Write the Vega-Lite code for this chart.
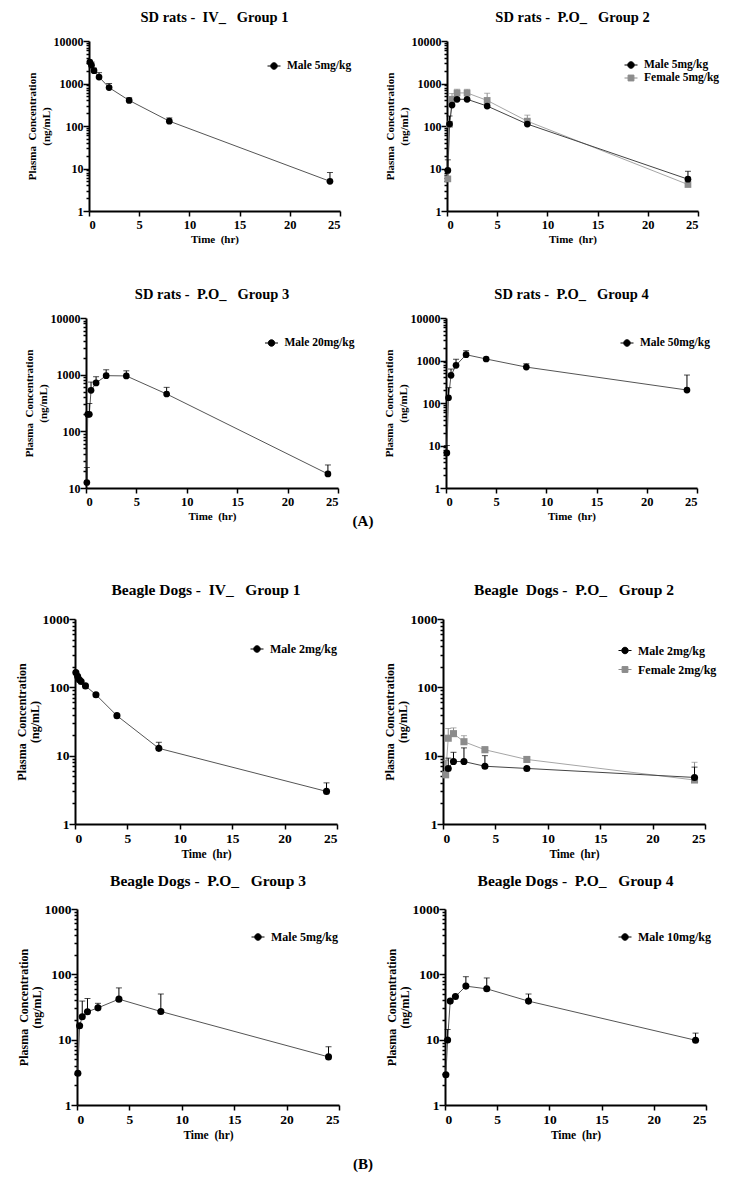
{
  "$schema": "https://vega.github.io/schema/vega-lite/v6.json",
  "autosize": {"type": "pad"},
  "padding": {"left": 15, "top": 9, "right": 0, "bottom": 0},
  "background": "white",
  "config": {
    "font": "Liberation Serif",
    "view": {"stroke": null},
    "axis": {"labelFont": "Liberation Serif", "labelFontWeight": "bold", "labelColor": "#000", "titleFont": "Liberation Serif", "titleFontWeight": "bold", "titleColor": "#000", "domainColor": "#000", "domainWidth": 2, "tickColor": "#000", "tickWidth": 1.5, "grid": false},
    "title": {"font": "Liberation Serif", "fontWeight": "bold", "color": "#000", "frame": "group", "anchor": "middle", "baseline": "bottom"},
    "legend": {"labelFont": "Liberation Serif", "labelFontWeight": "bold", "labelColor": "#000", "symbolSize": 169, "labelOffset": 6, "rowPadding": 0, "padding": 0}
  },
  "resolve": {"scale": {"color": "independent", "stroke": "independent", "shape": "independent"}, "legend": {"color": "independent", "stroke": "independent", "shape": "independent"}},
  "datasets": {
    "pk": [
      {"panel": "p1", "series": "Male 5mg/kg", "t": 0.083, "c": 3200, "hi": null},
      {"panel": "p1", "series": "Male 5mg/kg", "t": 0.25, "c": 2700, "hi": 3200},
      {"panel": "p1", "series": "Male 5mg/kg", "t": 0.5, "c": 2000, "hi": 2300},
      {"panel": "p1", "series": "Male 5mg/kg", "t": 1, "c": 1420, "hi": 1800},
      {"panel": "p1", "series": "Male 5mg/kg", "t": 2, "c": 800, "hi": 1000},
      {"panel": "p1", "series": "Male 5mg/kg", "t": 4, "c": 400, "hi": 460},
      {"panel": "p1", "series": "Male 5mg/kg", "t": 8, "c": 130, "hi": 155},
      {"panel": "p1", "series": "Male 5mg/kg", "t": 24, "c": 5, "hi": 8},
      {"panel": "p2", "series": "Male 5mg/kg", "t": 0.083, "c": 9, "hi": 16},
      {"panel": "p2", "series": "Male 5mg/kg", "t": 0.25, "c": 111, "hi": 172},
      {"panel": "p2", "series": "Male 5mg/kg", "t": 0.5, "c": 310, "hi": null},
      {"panel": "p2", "series": "Male 5mg/kg", "t": 1, "c": 425, "hi": null},
      {"panel": "p2", "series": "Male 5mg/kg", "t": 2, "c": 425, "hi": null},
      {"panel": "p2", "series": "Male 5mg/kg", "t": 4, "c": 295, "hi": null},
      {"panel": "p2", "series": "Male 5mg/kg", "t": 8, "c": 111, "hi": null},
      {"panel": "p2", "series": "Male 5mg/kg", "t": 24, "c": 5.6, "hi": 8.6},
      {"panel": "p2", "series": "Female 5mg/kg", "t": 0.083, "c": 5.7, "hi": null},
      {"panel": "p2", "series": "Female 5mg/kg", "t": 0.25, "c": 110, "hi": null},
      {"panel": "p2", "series": "Female 5mg/kg", "t": 0.5, "c": 425, "hi": 580},
      {"panel": "p2", "series": "Female 5mg/kg", "t": 1, "c": 600, "hi": 730},
      {"panel": "p2", "series": "Female 5mg/kg", "t": 2, "c": 600, "hi": 730},
      {"panel": "p2", "series": "Female 5mg/kg", "t": 4, "c": 400, "hi": 590},
      {"panel": "p2", "series": "Female 5mg/kg", "t": 8, "c": 130, "hi": 180},
      {"panel": "p2", "series": "Female 5mg/kg", "t": 24, "c": 4.2, "hi": null},
      {"panel": "p3", "series": "Male 20mg/kg", "t": 0.083, "c": 12.5, "hi": 23},
      {"panel": "p3", "series": "Male 20mg/kg", "t": 0.17, "c": 200, "hi": null},
      {"panel": "p3", "series": "Male 20mg/kg", "t": 0.33, "c": 200, "hi": 310},
      {"panel": "p3", "series": "Male 20mg/kg", "t": 0.5, "c": 530, "hi": 740},
      {"panel": "p3", "series": "Male 20mg/kg", "t": 1, "c": 715, "hi": 920},
      {"panel": "p3", "series": "Male 20mg/kg", "t": 2, "c": 960, "hi": 1220},
      {"panel": "p3", "series": "Male 20mg/kg", "t": 4, "c": 950, "hi": 1170},
      {"panel": "p3", "series": "Male 20mg/kg", "t": 8, "c": 456, "hi": 597},
      {"panel": "p3", "series": "Male 20mg/kg", "t": 24, "c": 17.7, "hi": 25.5},
      {"panel": "p4", "series": "Male 50mg/kg", "t": 0.083, "c": 6.7, "hi": 10},
      {"panel": "p4", "series": "Male 50mg/kg", "t": 0.25, "c": 133, "hi": 230},
      {"panel": "p4", "series": "Male 50mg/kg", "t": 0.5, "c": 448, "hi": 630},
      {"panel": "p4", "series": "Male 50mg/kg", "t": 1, "c": 770, "hi": 1070},
      {"panel": "p4", "series": "Male 50mg/kg", "t": 2, "c": 1370, "hi": 1700},
      {"panel": "p4", "series": "Male 50mg/kg", "t": 4, "c": 1085, "hi": null},
      {"panel": "p4", "series": "Male 50mg/kg", "t": 8, "c": 700, "hi": 840},
      {"panel": "p4", "series": "Male 50mg/kg", "t": 24, "c": 202, "hi": 455},
      {"panel": "p5", "series": "Male 2mg/kg", "t": 0.083, "c": 165, "hi": null},
      {"panel": "p5", "series": "Male 2mg/kg", "t": 0.25, "c": 145, "hi": null},
      {"panel": "p5", "series": "Male 2mg/kg", "t": 0.417, "c": 129, "hi": null},
      {"panel": "p5", "series": "Male 2mg/kg", "t": 0.583, "c": 122, "hi": null},
      {"panel": "p5", "series": "Male 2mg/kg", "t": 1, "c": 105, "hi": null},
      {"panel": "p5", "series": "Male 2mg/kg", "t": 2, "c": 78, "hi": null},
      {"panel": "p5", "series": "Male 2mg/kg", "t": 4, "c": 38.5, "hi": null},
      {"panel": "p5", "series": "Male 2mg/kg", "t": 8, "c": 12.8, "hi": 15.7},
      {"panel": "p5", "series": "Male 2mg/kg", "t": 24, "c": 3.0, "hi": 4.0},
      {"panel": "p6", "series": "Male 2mg/kg", "t": 0.5, "c": 6.5, "hi": 9.2},
      {"panel": "p6", "series": "Male 2mg/kg", "t": 1, "c": 8.2, "hi": 11.2},
      {"panel": "p6", "series": "Male 2mg/kg", "t": 2, "c": 8.2, "hi": 13},
      {"panel": "p6", "series": "Male 2mg/kg", "t": 4, "c": 7.0, "hi": 10},
      {"panel": "p6", "series": "Male 2mg/kg", "t": 8, "c": 6.5, "hi": null},
      {"panel": "p6", "series": "Male 2mg/kg", "t": 24, "c": 4.8, "hi": 6.8},
      {"panel": "p6", "series": "Female 2mg/kg", "t": 0.25, "c": 5.25, "hi": 8.6},
      {"panel": "p6", "series": "Female 2mg/kg", "t": 0.5, "c": 18, "hi": 25},
      {"panel": "p6", "series": "Female 2mg/kg", "t": 1, "c": 21, "hi": 25.5},
      {"panel": "p6", "series": "Female 2mg/kg", "t": 2, "c": 16, "hi": 19.6},
      {"panel": "p6", "series": "Female 2mg/kg", "t": 4, "c": 12.2, "hi": 13.5},
      {"panel": "p6", "series": "Female 2mg/kg", "t": 8, "c": 8.8, "hi": 9.7},
      {"panel": "p6", "series": "Female 2mg/kg", "t": 24, "c": 4.4, "hi": 8.0},
      {"panel": "p7", "series": "Male 5mg/kg", "t": 0.083, "c": 3.06, "hi": null},
      {"panel": "p7", "series": "Male 5mg/kg", "t": 0.25, "c": 16.3, "hi": null},
      {"panel": "p7", "series": "Male 5mg/kg", "t": 0.5, "c": 22.4, "hi": 39},
      {"panel": "p7", "series": "Male 5mg/kg", "t": 1, "c": 26.7, "hi": 42.7},
      {"panel": "p7", "series": "Male 5mg/kg", "t": 2, "c": 30.7, "hi": 36},
      {"panel": "p7", "series": "Male 5mg/kg", "t": 4, "c": 41.7, "hi": 62},
      {"panel": "p7", "series": "Male 5mg/kg", "t": 8, "c": 27, "hi": 50},
      {"panel": "p7", "series": "Male 5mg/kg", "t": 24, "c": 5.45, "hi": 7.8},
      {"panel": "p8", "series": "Male 10mg/kg", "t": 0.083, "c": 2.9, "hi": null},
      {"panel": "p8", "series": "Male 10mg/kg", "t": 0.25, "c": 9.9, "hi": 14.3},
      {"panel": "p8", "series": "Male 10mg/kg", "t": 0.5, "c": 38.9, "hi": null},
      {"panel": "p8", "series": "Male 10mg/kg", "t": 1, "c": 45.8, "hi": null},
      {"panel": "p8", "series": "Male 10mg/kg", "t": 2, "c": 66, "hi": 92},
      {"panel": "p8", "series": "Male 10mg/kg", "t": 4, "c": 60, "hi": 88},
      {"panel": "p8", "series": "Male 10mg/kg", "t": 8, "c": 38.9, "hi": 50},
      {"panel": "p8", "series": "Male 10mg/kg", "t": 24, "c": 9.8, "hi": 12.6}
    ]
  },
  "columns": 3,
  "align": "none",
  "bounds": "flush",
  "spacing": 0,
  "concat": [
    {
      "width": 265, "height": 170,
      "title": {"text": "SD rats -\u00a0 IV_\u00a0\u00a0 Group 1", "fontSize": 14.5, "offset": 10, "dx": 7},
      "data": {"name": "pk"},
      "transform": [{"filter": "datum.panel === 'p1'"}],
      "encoding": {
        "x": {"field": "t", "type": "quantitative", "scale": {"domain": [0, 25], "nice": false, "range": [14, 265]}, "axis": {"values": [0, 5, 10, 15, 20, 25], "title": "Time\u00a0 (hr)", "tickSize": 5, "labelPadding": 2, "titlePadding": 3, "labelFontSize": 12.5, "titleFontSize": 11}},
        "y": {"field": "c", "type": "quantitative", "scale": {"type": "log", "domain": [1, 10000], "nice": false}, "axis": {"offset": -14, "values": [1,2,3,4,5,6,7,8,9,10,20,30,40,50,60,70,80,90,100,200,300,400,500,600,700,800,900,1000,2000,3000,4000,5000,6000,7000,8000,9000,10000], "format": "d", "labelExpr": "indexof(['1','10','100','1000','10000'], datum.label) >= 0 ? datum.label : ''", "tickSize": {"condition": {"test": "indexof([1,10,100,1000,10000], datum.value) >= 0", "value": 6}, "value": 3}, "labelOverlap": false, "labelPadding": 0, "title": ["Plasma\u00a0 Concentration", "(ng/mL)"], "titlePadding": 2, "titleLineHeight": 14, "labelFontSize": 12, "titleFontSize": 11}}
      },
      "layer": [
        {"mark": {"type": "line", "strokeWidth": 1, "color": "#555555"}},
        {"transform": [{"filter": "datum.hi != null"}], "mark": {"type": "rule", "strokeWidth": 1, "color": "#000000"}, "encoding": {"y2": {"field": "hi"}}},
        {"transform": [{"filter": "datum.hi != null"}], "mark": {"type": "tick", "orient": "horizontal", "size": 6, "thickness": 1, "color": "#000000"}, "encoding": {"y": {"field": "hi", "type": "quantitative", "scale": {"type": "log", "domain": [1, 10000], "nice": false}}}},
        {"mark": {"type": "point", "shape": "circle", "filled": true, "size": 45, "opacity": 1, "color": "#000000"}},
        {"mark": {"type": "point", "filled": true, "size": 0, "opacity": 0}, "encoding": {
          "color": {"field": "series", "type": "nominal", "scale": {"domain": ["Male 5mg/kg"], "range": ["#000000"]}, "legend": {"title": null, "orient": "none", "legendX": 192, "legendY": 18, "labelFontSize": 11.5, "symbolOpacity": 1, "symbolStrokeWidth": 1}},
          "stroke": {"field": "series", "type": "nominal", "scale": {"domain": ["Male 5mg/kg"], "range": ["#000000"]}, "legend": {"title": null, "orient": "none", "legendX": 192, "legendY": 18, "labelFontSize": 11.5, "symbolOpacity": 1, "symbolStrokeWidth": 1}},
          "shape": {"field": "series", "type": "nominal", "scale": {"domain": ["Male 5mg/kg"], "range": ["M-1,0H-0.5M0.5,0H1M0.5,0A0.5,0.5 0 1,1 -0.5,0A0.5,0.5 0 1,1 0.5,0Z"]}, "legend": {"title": null, "orient": "none", "legendX": 192, "legendY": 18, "labelFontSize": 11.5, "symbolOpacity": 1, "symbolStrokeWidth": 1}}
        }}
      ]
    },
    {"width": 103, "height": 170, "data": {"values": []}, "mark": {"type": "point", "opacity": 0}, "encoding": {}},
    {
      "width": 255, "height": 170,
      "title": {"text": "SD rats -\u00a0 P.O_\u00a0\u00a0 Group 2", "fontSize": 14.5, "offset": 10, "dx": 2},
      "data": {"name": "pk"},
      "transform": [{"filter": "datum.panel === 'p2'"}],
      "encoding": {
        "x": {"field": "t", "type": "quantitative", "scale": {"domain": [0, 25], "nice": false, "range": [4, 255]}, "axis": {"values": [0, 5, 10, 15, 20, 25], "title": "Time\u00a0 (hr)", "tickSize": 5, "labelPadding": 2, "titlePadding": 3, "labelFontSize": 12.5, "titleFontSize": 11}},
        "y": {"field": "c", "type": "quantitative", "scale": {"type": "log", "domain": [1, 10000], "nice": false}, "axis": {"offset": -4, "values": [1,2,3,4,5,6,7,8,9,10,20,30,40,50,60,70,80,90,100,200,300,400,500,600,700,800,900,1000,2000,3000,4000,5000,6000,7000,8000,9000,10000], "format": "d", "labelExpr": "indexof(['1','10','100','1000','10000'], datum.label) >= 0 ? datum.label : ''", "tickSize": {"condition": {"test": "indexof([1,10,100,1000,10000], datum.value) >= 0", "value": 6}, "value": 3}, "labelOverlap": false, "labelPadding": 0, "title": ["Plasma\u00a0 Concentration", "(ng/mL)"], "titlePadding": 2, "titleLineHeight": 14, "labelFontSize": 12, "titleFontSize": 11}}
      },
      "layer": [
        {"transform": [{"filter": "datum.series === 'Female 5mg/kg'"}], "mark": {"type": "line", "strokeWidth": 1, "color": "#a6a6a6"}},
        {"transform": [{"filter": "datum.series === 'Male 5mg/kg'"}], "mark": {"type": "line", "strokeWidth": 1, "color": "#444444"}},
        {"transform": [{"filter": "datum.hi != null && datum.series === 'Female 5mg/kg'"}], "mark": {"type": "rule", "strokeWidth": 1, "color": "#8c8c8c"}, "encoding": {"y2": {"field": "hi"}}},
        {"transform": [{"filter": "datum.hi != null && datum.series === 'Female 5mg/kg'"}], "mark": {"type": "tick", "orient": "horizontal", "size": 6, "thickness": 1, "color": "#8c8c8c"}, "encoding": {"y": {"field": "hi", "type": "quantitative", "scale": {"type": "log", "domain": [1, 10000], "nice": false}}}},
        {"transform": [{"filter": "datum.hi != null && datum.series === 'Male 5mg/kg'"}], "mark": {"type": "rule", "strokeWidth": 1, "color": "#000000"}, "encoding": {"y2": {"field": "hi"}}},
        {"transform": [{"filter": "datum.hi != null && datum.series === 'Male 5mg/kg'"}], "mark": {"type": "tick", "orient": "horizontal", "size": 6, "thickness": 1, "color": "#000000"}, "encoding": {"y": {"field": "hi", "type": "quantitative", "scale": {"type": "log", "domain": [1, 10000], "nice": false}}}},
        {"transform": [{"filter": "datum.series === 'Female 5mg/kg'"}], "mark": {"type": "point", "shape": "square", "filled": true, "size": 45, "opacity": 1, "color": "#8c8c8c"}},
        {"transform": [{"filter": "datum.series === 'Male 5mg/kg'"}], "mark": {"type": "point", "shape": "circle", "filled": true, "size": 45, "opacity": 1, "color": "#000000"}},
        {"mark": {"type": "point", "filled": true, "size": 0, "opacity": 0}, "encoding": {
          "color": {"field": "series", "type": "nominal", "scale": {"domain": ["Male 5mg/kg", "Female 5mg/kg"], "range": ["#000000", "#8c8c8c"]}, "legend": {"title": null, "orient": "none", "legendX": 181, "legendY": 17, "labelFontSize": 11.5, "symbolOpacity": 1, "symbolStrokeWidth": 1}},
          "stroke": {"field": "series", "type": "nominal", "scale": {"domain": ["Male 5mg/kg", "Female 5mg/kg"], "range": ["#000000", "#8c8c8c"]}, "legend": {"title": null, "orient": "none", "legendX": 181, "legendY": 17, "labelFontSize": 11.5, "symbolOpacity": 1, "symbolStrokeWidth": 1}},
          "shape": {"field": "series", "type": "nominal", "scale": {"domain": ["Male 5mg/kg", "Female 5mg/kg"], "range": ["M-1,0H-0.5M0.5,0H1M0.5,0A0.5,0.5 0 1,1 -0.5,0A0.5,0.5 0 1,1 0.5,0Z", "M-1,0H-0.45M0.45,0H1M-0.45,-0.45H0.45V0.45H-0.45Z"]}, "legend": {"title": null, "orient": "none", "legendX": 181, "legendY": 17, "labelFontSize": 11.5, "symbolOpacity": 1, "symbolStrokeWidth": 1}}
        }}
      ]
    },
    {"width": 1, "height": 107, "data": {"values": []}, "mark": {"type": "point", "opacity": 0}, "encoding": {}},
    {"width": 1, "height": 107, "data": {"values": []}, "mark": {"type": "point", "opacity": 0}, "encoding": {}},
    {"width": 1, "height": 107, "data": {"values": []}, "mark": {"type": "point", "opacity": 0}, "encoding": {}},
    {
      "width": 263, "height": 170,
      "title": {"text": "SD rats -\u00a0 P.O_\u00a0\u00a0 Group 3", "fontSize": 14.5, "offset": 10, "dx": 5.5},
      "data": {"name": "pk"},
      "transform": [{"filter": "datum.panel === 'p3'"}],
      "encoding": {
        "x": {"field": "t", "type": "quantitative", "scale": {"domain": [0, 25], "nice": false, "range": [11, 263]}, "axis": {"values": [0, 5, 10, 15, 20, 25], "title": "Time\u00a0 (hr)", "tickSize": 5, "labelPadding": 2, "titlePadding": 3, "labelFontSize": 12.5, "titleFontSize": 11}},
        "y": {"field": "c", "type": "quantitative", "scale": {"type": "log", "domain": [10, 10000], "nice": false}, "axis": {"offset": -11, "values": [10,20,30,40,50,60,70,80,90,100,200,300,400,500,600,700,800,900,1000,2000,3000,4000,5000,6000,7000,8000,9000,10000], "format": "d", "labelExpr": "indexof(['10','100','1000','10000'], datum.label) >= 0 ? datum.label : ''", "tickSize": {"condition": {"test": "indexof([10,100,1000,10000], datum.value) >= 0", "value": 6}, "value": 3}, "labelOverlap": false, "labelPadding": 0, "title": ["Plasma\u00a0 Concentration", "(ng/mL)"], "titlePadding": 2, "titleLineHeight": 14, "labelFontSize": 12, "titleFontSize": 11}}
      },
      "layer": [
        {"mark": {"type": "line", "strokeWidth": 1, "color": "#555555"}},
        {"transform": [{"filter": "datum.hi != null"}], "mark": {"type": "rule", "strokeWidth": 1, "color": "#000000"}, "encoding": {"y2": {"field": "hi"}}},
        {"transform": [{"filter": "datum.hi != null"}], "mark": {"type": "tick", "orient": "horizontal", "size": 6, "thickness": 1, "color": "#000000"}, "encoding": {"y": {"field": "hi", "type": "quantitative", "scale": {"type": "log", "domain": [10, 10000], "nice": false}}}},
        {"mark": {"type": "point", "shape": "circle", "filled": true, "size": 45, "opacity": 1, "color": "#000000"}},
        {"mark": {"type": "point", "filled": true, "size": 0, "opacity": 0}, "encoding": {
          "color": {"field": "series", "type": "nominal", "scale": {"domain": ["Male 20mg/kg"], "range": ["#000000"]}, "legend": {"title": null, "orient": "none", "legendX": 189.5, "legendY": 18, "labelFontSize": 11.5, "symbolOpacity": 1, "symbolStrokeWidth": 1}},
          "stroke": {"field": "series", "type": "nominal", "scale": {"domain": ["Male 20mg/kg"], "range": ["#000000"]}, "legend": {"title": null, "orient": "none", "legendX": 189.5, "legendY": 18, "labelFontSize": 11.5, "symbolOpacity": 1, "symbolStrokeWidth": 1}},
          "shape": {"field": "series", "type": "nominal", "scale": {"domain": ["Male 20mg/kg"], "range": ["M-1,0H-0.5M0.5,0H1M0.5,0A0.5,0.5 0 1,1 -0.5,0A0.5,0.5 0 1,1 0.5,0Z"]}, "legend": {"title": null, "orient": "none", "legendX": 189.5, "legendY": 18, "labelFontSize": 11.5, "symbolOpacity": 1, "symbolStrokeWidth": 1}}
        }}
      ]
    },
    {"width": 103, "height": 170, "data": {"values": []}, "mark": {"type": "point", "opacity": 0}, "encoding": {}},
    {
      "width": 254, "height": 170,
      "title": {"text": "SD rats -\u00a0 P.O_\u00a0\u00a0 Group 4", "fontSize": 14.5, "offset": 10, "dx": 1.5},
      "data": {"name": "pk"},
      "transform": [{"filter": "datum.panel === 'p4'"}],
      "encoding": {
        "x": {"field": "t", "type": "quantitative", "scale": {"domain": [0, 25], "nice": false, "range": [3, 254]}, "axis": {"values": [0, 5, 10, 15, 20, 25], "title": "Time\u00a0 (hr)", "tickSize": 5, "labelPadding": 2, "titlePadding": 3, "labelFontSize": 12.5, "titleFontSize": 11}},
        "y": {"field": "c", "type": "quantitative", "scale": {"type": "log", "domain": [1, 10000], "nice": false}, "axis": {"offset": -3, "values": [1,2,3,4,5,6,7,8,9,10,20,30,40,50,60,70,80,90,100,200,300,400,500,600,700,800,900,1000,2000,3000,4000,5000,6000,7000,8000,9000,10000], "format": "d", "labelExpr": "indexof(['1','10','100','1000','10000'], datum.label) >= 0 ? datum.label : ''", "tickSize": {"condition": {"test": "indexof([1,10,100,1000,10000], datum.value) >= 0", "value": 6}, "value": 3}, "labelOverlap": false, "labelPadding": 0, "title": ["Plasma\u00a0 Concentration", "(ng/mL)"], "titlePadding": 2, "titleLineHeight": 14, "labelFontSize": 12, "titleFontSize": 11}}
      },
      "layer": [
        {"mark": {"type": "line", "strokeWidth": 1, "color": "#555555"}},
        {"transform": [{"filter": "datum.hi != null"}], "mark": {"type": "rule", "strokeWidth": 1, "color": "#000000"}, "encoding": {"y2": {"field": "hi"}}},
        {"transform": [{"filter": "datum.hi != null"}], "mark": {"type": "tick", "orient": "horizontal", "size": 6, "thickness": 1, "color": "#000000"}, "encoding": {"y": {"field": "hi", "type": "quantitative", "scale": {"type": "log", "domain": [1, 10000], "nice": false}}}},
        {"mark": {"type": "point", "shape": "circle", "filled": true, "size": 45, "opacity": 1, "color": "#000000"}},
        {"mark": {"type": "point", "filled": true, "size": 0, "opacity": 0}, "encoding": {
          "color": {"field": "series", "type": "nominal", "scale": {"domain": ["Male 50mg/kg"], "range": ["#000000"]}, "legend": {"title": null, "orient": "none", "legendX": 177, "legendY": 18, "labelFontSize": 11.5, "symbolOpacity": 1, "symbolStrokeWidth": 1}},
          "stroke": {"field": "series", "type": "nominal", "scale": {"domain": ["Male 50mg/kg"], "range": ["#000000"]}, "legend": {"title": null, "orient": "none", "legendX": 177, "legendY": 18, "labelFontSize": 11.5, "symbolOpacity": 1, "symbolStrokeWidth": 1}},
          "shape": {"field": "series", "type": "nominal", "scale": {"domain": ["Male 50mg/kg"], "range": ["M-1,0H-0.5M0.5,0H1M0.5,0A0.5,0.5 0 1,1 -0.5,0A0.5,0.5 0 1,1 0.5,0Z"]}, "legend": {"title": null, "orient": "none", "legendX": 177, "legendY": 18, "labelFontSize": 11.5, "symbolOpacity": 1, "symbolStrokeWidth": 1}}
        }}
      ]
    },
    {"width": 262, "height": 131, "data": {"values": [{"label": "(A)"}]}, "mark": {"type": "text", "font": "Liberation Serif", "fontSize": 15, "fontWeight": "bold", "color": "#000", "dx": 157, "dy": -33}, "encoding": {"text": {"field": "label"}}},
    {"width": 1, "height": 131, "data": {"values": []}, "mark": {"type": "point", "opacity": 0}, "encoding": {}},
    {"width": 1, "height": 131, "data": {"values": []}, "mark": {"type": "point", "opacity": 0}, "encoding": {}},
    {
      "width": 262, "height": 205,
      "title": {"text": "Beagle Dogs -\u00a0 IV_\u00a0\u00a0 Group 1", "fontSize": 15.5, "offset": 14},
      "data": {"name": "pk"},
      "transform": [{"filter": "datum.panel === 'p5'"}],
      "encoding": {
        "x": {"field": "t", "type": "quantitative", "scale": {"domain": [0, 25], "nice": false}, "axis": {"values": [0, 5, 10, 15, 20, 25], "title": "Time\u00a0 (hr)", "tickSize": 5, "labelPadding": 2, "titlePadding": 4, "labelFontSize": 13.5, "titleFontSize": 11.5}},
        "y": {"field": "c", "type": "quantitative", "scale": {"type": "log", "domain": [1, 1000], "nice": false}, "axis": {"values": [1,2,3,4,5,6,7,8,9,10,20,30,40,50,60,70,80,90,100,200,300,400,500,600,700,800,900,1000], "format": "d", "labelExpr": "indexof(['1','10','100','1000'], datum.label) >= 0 ? datum.label : ''", "tickSize": {"condition": {"test": "indexof([1,10,100,1000], datum.value) >= 0", "value": 6}, "value": 3}, "labelOverlap": false, "labelPadding": 0, "title": ["Plasma\u00a0 Concentration", "(ng/mL)"], "titlePadding": 1, "titleLineHeight": 12.5, "labelFontSize": 13.5, "titleFontSize": 12}}
      },
      "layer": [
        {"mark": {"type": "line", "strokeWidth": 1, "color": "#555555"}},
        {"transform": [{"filter": "datum.hi != null"}], "mark": {"type": "rule", "strokeWidth": 1, "color": "#000000"}, "encoding": {"y2": {"field": "hi"}}},
        {"transform": [{"filter": "datum.hi != null"}], "mark": {"type": "tick", "orient": "horizontal", "size": 6, "thickness": 1, "color": "#000000"}, "encoding": {"y": {"field": "hi", "type": "quantitative", "scale": {"type": "log", "domain": [1, 1000], "nice": false}}}},
        {"mark": {"type": "point", "shape": "circle", "filled": true, "size": 50, "opacity": 1, "color": "#000000"}},
        {"mark": {"type": "point", "filled": true, "size": 0, "opacity": 0}, "encoding": {
          "color": {"field": "series", "type": "nominal", "scale": {"domain": ["Male 2mg/kg"], "range": ["#000000"]}, "legend": {"title": null, "orient": "none", "legendX": 175, "legendY": 23, "labelFontSize": 12, "symbolOpacity": 1, "symbolStrokeWidth": 1}},
          "stroke": {"field": "series", "type": "nominal", "scale": {"domain": ["Male 2mg/kg"], "range": ["#000000"]}, "legend": {"title": null, "orient": "none", "legendX": 175, "legendY": 23, "labelFontSize": 12, "symbolOpacity": 1, "symbolStrokeWidth": 1}},
          "shape": {"field": "series", "type": "nominal", "scale": {"domain": ["Male 2mg/kg"], "range": ["M-1,0H-0.5M0.5,0H1M0.5,0A0.5,0.5 0 1,1 -0.5,0A0.5,0.5 0 1,1 0.5,0Z"]}, "legend": {"title": null, "orient": "none", "legendX": 175, "legendY": 23, "labelFontSize": 12, "symbolOpacity": 1, "symbolStrokeWidth": 1}}
        }}
      ]
    },
    {"width": 103, "height": 205, "data": {"values": []}, "mark": {"type": "point", "opacity": 0}, "encoding": {}},
    {
      "width": 262, "height": 205,
      "title": {"text": "Beagle\u00a0 Dogs -\u00a0 P.O_\u00a0\u00a0 Group 2", "fontSize": 15.5, "offset": 14},
      "data": {"name": "pk"},
      "transform": [{"filter": "datum.panel === 'p6'"}],
      "encoding": {
        "x": {"field": "t", "type": "quantitative", "scale": {"domain": [0, 25], "nice": false}, "axis": {"values": [0, 5, 10, 15, 20, 25], "title": "Time\u00a0 (hr)", "tickSize": 5, "labelPadding": 2, "titlePadding": 4, "labelFontSize": 13.5, "titleFontSize": 11.5}},
        "y": {"field": "c", "type": "quantitative", "scale": {"type": "log", "domain": [1, 1000], "nice": false}, "axis": {"values": [1,2,3,4,5,6,7,8,9,10,20,30,40,50,60,70,80,90,100,200,300,400,500,600,700,800,900,1000], "format": "d", "labelExpr": "indexof(['1','10','100','1000'], datum.label) >= 0 ? datum.label : ''", "tickSize": {"condition": {"test": "indexof([1,10,100,1000], datum.value) >= 0", "value": 6}, "value": 3}, "labelOverlap": false, "labelPadding": 0, "title": ["Plasma\u00a0 Concentration", "(ng/mL)"], "titlePadding": 1, "titleLineHeight": 12.5, "labelFontSize": 13.5, "titleFontSize": 12}}
      },
      "layer": [
        {"transform": [{"filter": "datum.series === 'Female 2mg/kg'"}], "mark": {"type": "line", "strokeWidth": 1, "color": "#a6a6a6"}},
        {"transform": [{"filter": "datum.series === 'Male 2mg/kg'"}], "mark": {"type": "line", "strokeWidth": 1, "color": "#444444"}},
        {"transform": [{"filter": "datum.hi != null && datum.series === 'Female 2mg/kg'"}], "mark": {"type": "rule", "strokeWidth": 1, "color": "#8c8c8c"}, "encoding": {"y2": {"field": "hi"}}},
        {"transform": [{"filter": "datum.hi != null && datum.series === 'Female 2mg/kg'"}], "mark": {"type": "tick", "orient": "horizontal", "size": 6, "thickness": 1, "color": "#8c8c8c"}, "encoding": {"y": {"field": "hi", "type": "quantitative", "scale": {"type": "log", "domain": [1, 1000], "nice": false}}}},
        {"transform": [{"filter": "datum.hi != null && datum.series === 'Male 2mg/kg'"}], "mark": {"type": "rule", "strokeWidth": 1, "color": "#000000"}, "encoding": {"y2": {"field": "hi"}}},
        {"transform": [{"filter": "datum.hi != null && datum.series === 'Male 2mg/kg'"}], "mark": {"type": "tick", "orient": "horizontal", "size": 6, "thickness": 1, "color": "#000000"}, "encoding": {"y": {"field": "hi", "type": "quantitative", "scale": {"type": "log", "domain": [1, 1000], "nice": false}}}},
        {"transform": [{"filter": "datum.series === 'Female 2mg/kg'"}], "mark": {"type": "point", "shape": "square", "filled": true, "size": 50, "opacity": 1, "color": "#8c8c8c"}},
        {"transform": [{"filter": "datum.series === 'Male 2mg/kg'"}], "mark": {"type": "point", "shape": "circle", "filled": true, "size": 50, "opacity": 1, "color": "#000000"}},
        {"mark": {"type": "point", "filled": true, "size": 0, "opacity": 0}, "encoding": {
          "color": {"field": "series", "type": "nominal", "scale": {"domain": ["Male 2mg/kg", "Female 2mg/kg"], "range": ["#000000", "#8c8c8c"]}, "legend": {"title": null, "orient": "none", "legendX": 175, "legendY": 24.5, "labelFontSize": 12, "rowPadding": 6, "symbolOpacity": 1, "symbolStrokeWidth": 1}},
          "stroke": {"field": "series", "type": "nominal", "scale": {"domain": ["Male 2mg/kg", "Female 2mg/kg"], "range": ["#000000", "#8c8c8c"]}, "legend": {"title": null, "orient": "none", "legendX": 175, "legendY": 24.5, "labelFontSize": 12, "rowPadding": 6, "symbolOpacity": 1, "symbolStrokeWidth": 1}},
          "shape": {"field": "series", "type": "nominal", "scale": {"domain": ["Male 2mg/kg", "Female 2mg/kg"], "range": ["M-1,0H-0.5M0.5,0H1M0.5,0A0.5,0.5 0 1,1 -0.5,0A0.5,0.5 0 1,1 0.5,0Z", "M-1,0H-0.45M0.45,0H1M-0.45,-0.45H0.45V0.45H-0.45Z"]}, "legend": {"title": null, "orient": "none", "legendX": 175, "legendY": 24.5, "labelFontSize": 12, "rowPadding": 6, "symbolOpacity": 1, "symbolStrokeWidth": 1}}
        }}
      ]
    },
    {"width": 1, "height": 85, "data": {"values": []}, "mark": {"type": "point", "opacity": 0}, "encoding": {}},
    {"width": 1, "height": 85, "data": {"values": []}, "mark": {"type": "point", "opacity": 0}, "encoding": {}},
    {"width": 1, "height": 85, "data": {"values": []}, "mark": {"type": "point", "opacity": 0}, "encoding": {}},
    {
      "width": 264, "height": 196,
      "title": {"text": "Beagle Dogs -\u00a0 P.O_\u00a0\u00a0 Group 3", "fontSize": 15.5, "offset": 13, "dx": 1},
      "data": {"name": "pk"},
      "transform": [{"filter": "datum.panel === 'p7'"}],
      "encoding": {
        "x": {"field": "t", "type": "quantitative", "scale": {"domain": [0, 25], "nice": false, "range": [2, 264]}, "axis": {"values": [0, 5, 10, 15, 20, 25], "title": "Time\u00a0 (hr)", "tickSize": 5, "labelPadding": 2, "titlePadding": 4, "labelFontSize": 13.5, "titleFontSize": 11.5}},
        "y": {"field": "c", "type": "quantitative", "scale": {"type": "log", "domain": [1, 1000], "nice": false}, "axis": {"offset": -2, "values": [1,2,3,4,5,6,7,8,9,10,20,30,40,50,60,70,80,90,100,200,300,400,500,600,700,800,900,1000], "format": "d", "labelExpr": "indexof(['1','10','100','1000'], datum.label) >= 0 ? datum.label : ''", "tickSize": {"condition": {"test": "indexof([1,10,100,1000], datum.value) >= 0", "value": 6}, "value": 3}, "labelOverlap": false, "labelPadding": 0, "title": ["Plasma\u00a0 Concentration", "(ng/mL)"], "titlePadding": 1, "titleLineHeight": 12.5, "labelFontSize": 13.5, "titleFontSize": 12}}
      },
      "layer": [
        {"mark": {"type": "line", "strokeWidth": 1, "color": "#555555"}},
        {"transform": [{"filter": "datum.hi != null"}], "mark": {"type": "rule", "strokeWidth": 1, "color": "#000000"}, "encoding": {"y2": {"field": "hi"}}},
        {"transform": [{"filter": "datum.hi != null"}], "mark": {"type": "tick", "orient": "horizontal", "size": 6, "thickness": 1, "color": "#000000"}, "encoding": {"y": {"field": "hi", "type": "quantitative", "scale": {"type": "log", "domain": [1, 1000], "nice": false}}}},
        {"mark": {"type": "point", "shape": "circle", "filled": true, "size": 50, "opacity": 1, "color": "#000000"}},
        {"mark": {"type": "point", "filled": true, "size": 0, "opacity": 0}, "encoding": {
          "color": {"field": "series", "type": "nominal", "scale": {"domain": ["Male 5mg/kg"], "range": ["#000000"]}, "legend": {"title": null, "orient": "none", "legendX": 176, "legendY": 21, "labelFontSize": 12, "symbolOpacity": 1, "symbolStrokeWidth": 1}},
          "stroke": {"field": "series", "type": "nominal", "scale": {"domain": ["Male 5mg/kg"], "range": ["#000000"]}, "legend": {"title": null, "orient": "none", "legendX": 176, "legendY": 21, "labelFontSize": 12, "symbolOpacity": 1, "symbolStrokeWidth": 1}},
          "shape": {"field": "series", "type": "nominal", "scale": {"domain": ["Male 5mg/kg"], "range": ["M-1,0H-0.5M0.5,0H1M0.5,0A0.5,0.5 0 1,1 -0.5,0A0.5,0.5 0 1,1 0.5,0Z"]}, "legend": {"title": null, "orient": "none", "legendX": 176, "legendY": 21, "labelFontSize": 12, "symbolOpacity": 1, "symbolStrokeWidth": 1}}
        }}
      ]
    },
    {"width": 103, "height": 196, "data": {"values": []}, "mark": {"type": "point", "opacity": 0}, "encoding": {}},
    {
      "width": 263, "height": 196,
      "title": {"text": "Beagle Dogs -\u00a0 P.O_\u00a0\u00a0 Group 4", "fontSize": 15.5, "offset": 13, "dx": 1},
      "data": {"name": "pk"},
      "transform": [{"filter": "datum.panel === 'p8'"}],
      "encoding": {
        "x": {"field": "t", "type": "quantitative", "scale": {"domain": [0, 25], "nice": false, "range": [2, 263]}, "axis": {"values": [0, 5, 10, 15, 20, 25], "title": "Time\u00a0 (hr)", "tickSize": 5, "labelPadding": 2, "titlePadding": 4, "labelFontSize": 13.5, "titleFontSize": 11.5}},
        "y": {"field": "c", "type": "quantitative", "scale": {"type": "log", "domain": [1, 1000], "nice": false}, "axis": {"offset": -2, "values": [1,2,3,4,5,6,7,8,9,10,20,30,40,50,60,70,80,90,100,200,300,400,500,600,700,800,900,1000], "format": "d", "labelExpr": "indexof(['1','10','100','1000'], datum.label) >= 0 ? datum.label : ''", "tickSize": {"condition": {"test": "indexof([1,10,100,1000], datum.value) >= 0", "value": 6}, "value": 3}, "labelOverlap": false, "labelPadding": 0, "title": ["Plasma\u00a0 Concentration", "(ng/mL)"], "titlePadding": 1, "titleLineHeight": 12.5, "labelFontSize": 13.5, "titleFontSize": 12}}
      },
      "layer": [
        {"mark": {"type": "line", "strokeWidth": 1, "color": "#555555"}},
        {"transform": [{"filter": "datum.hi != null"}], "mark": {"type": "rule", "strokeWidth": 1, "color": "#000000"}, "encoding": {"y2": {"field": "hi"}}},
        {"transform": [{"filter": "datum.hi != null"}], "mark": {"type": "tick", "orient": "horizontal", "size": 6, "thickness": 1, "color": "#000000"}, "encoding": {"y": {"field": "hi", "type": "quantitative", "scale": {"type": "log", "domain": [1, 1000], "nice": false}}}},
        {"mark": {"type": "point", "shape": "circle", "filled": true, "size": 50, "opacity": 1, "color": "#000000"}},
        {"mark": {"type": "point", "filled": true, "size": 0, "opacity": 0}, "encoding": {
          "color": {"field": "series", "type": "nominal", "scale": {"domain": ["Male 10mg/kg"], "range": ["#000000"]}, "legend": {"title": null, "orient": "none", "legendX": 175, "legendY": 21, "labelFontSize": 12, "symbolOpacity": 1, "symbolStrokeWidth": 1}},
          "stroke": {"field": "series", "type": "nominal", "scale": {"domain": ["Male 10mg/kg"], "range": ["#000000"]}, "legend": {"title": null, "orient": "none", "legendX": 175, "legendY": 21, "labelFontSize": 12, "symbolOpacity": 1, "symbolStrokeWidth": 1}},
          "shape": {"field": "series", "type": "nominal", "scale": {"domain": ["Male 10mg/kg"], "range": ["M-1,0H-0.5M0.5,0H1M0.5,0A0.5,0.5 0 1,1 -0.5,0A0.5,0.5 0 1,1 0.5,0Z"]}, "legend": {"title": null, "orient": "none", "legendX": 175, "legendY": 21, "labelFontSize": 12, "symbolOpacity": 1, "symbolStrokeWidth": 1}}
        }}
      ]
    },
    {"width": 262, "height": 70, "data": {"values": [{"label": "(B)"}]}, "mark": {"type": "text", "font": "Liberation Serif", "fontSize": 15, "fontWeight": "bold", "color": "#000", "dx": 157, "dy": 24}, "encoding": {"text": {"field": "label"}}},
    {"width": 1, "height": 70, "data": {"values": []}, "mark": {"type": "point", "opacity": 0}, "encoding": {}},
    {"width": 1, "height": 70, "data": {"values": []}, "mark": {"type": "point", "opacity": 0}, "encoding": {}}
  ]
}
